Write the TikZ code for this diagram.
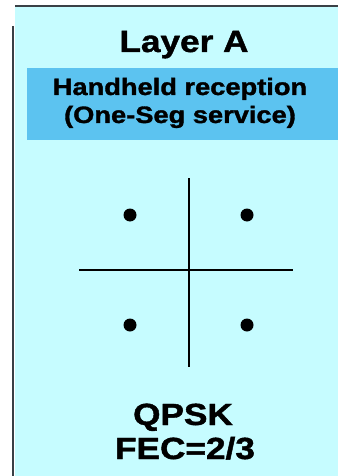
\documentclass[tikz,border=0pt]{standalone}
\usepackage{fontspec}
\setmainfont{Liberation Sans}[BoldFeatures={FakeBold=1.3}]
\definecolor{panelbg}{HTML}{C6FCFF}
\definecolor{bandblue}{HTML}{5CC3F0}
\definecolor{frame}{HTML}{3A4046}
\begin{document}
\begin{tikzpicture}[x=1pt,y=-1pt,
  label/.style={inner sep=0pt, anchor=base, font=\bfseries, xscale=1.15, transform shape},
  axis/.style={line width=2.6pt, black},
  pt/.style={fill=black}]
\useasboundingbox (0,0) rectangle (338,476);
% panel background and frame
\fill[panelbg] (15,7) rectangle (338,476);
\draw[frame, line width=2.5pt] (15,6) -- (338,6);
\draw[frame, line width=2.5pt] (13,26) -- (13,476);
% highlighted band
\fill[bandblue] (27,68) rectangle (338,140);
% texts
\node[label, font=\fontsize{30.6}{32}\selectfont\bfseries] (title) at (184,52) {Layer A};
\node[label, font=\fontsize{23.7}{26}\selectfont\bfseries] (use1) at (180,95) {Handheld reception};
\node[label, font=\fontsize{23.7}{26}\selectfont\bfseries] (use2) at (180,123) {(One-Seg service)};
\node[label, font=\fontsize{30.6}{32}\selectfont\bfseries] (mod) at (183,425) {QPSK};
\node[label, font=\fontsize{30.6}{32}\selectfont\bfseries] (fec) at (185,459) {FEC=2/3};
% constellation axes
\coordinate (top) at (189,178);
\coordinate (bot) at (189,367);
\coordinate (lft) at (79,270);
\coordinate (rgt) at (293,270);
\draw[axis] (top) -- (bot);
\draw[axis] (lft) -- (rgt);
% QPSK symbol points
\fill[pt] (130,215) circle[radius=6.5pt];
\fill[pt] (247,215) circle[radius=6.5pt];
\fill[pt] (130,325) circle[radius=6.5pt];
\fill[pt] (247,325) circle[radius=6.5pt];
\end{tikzpicture}
\end{document}
